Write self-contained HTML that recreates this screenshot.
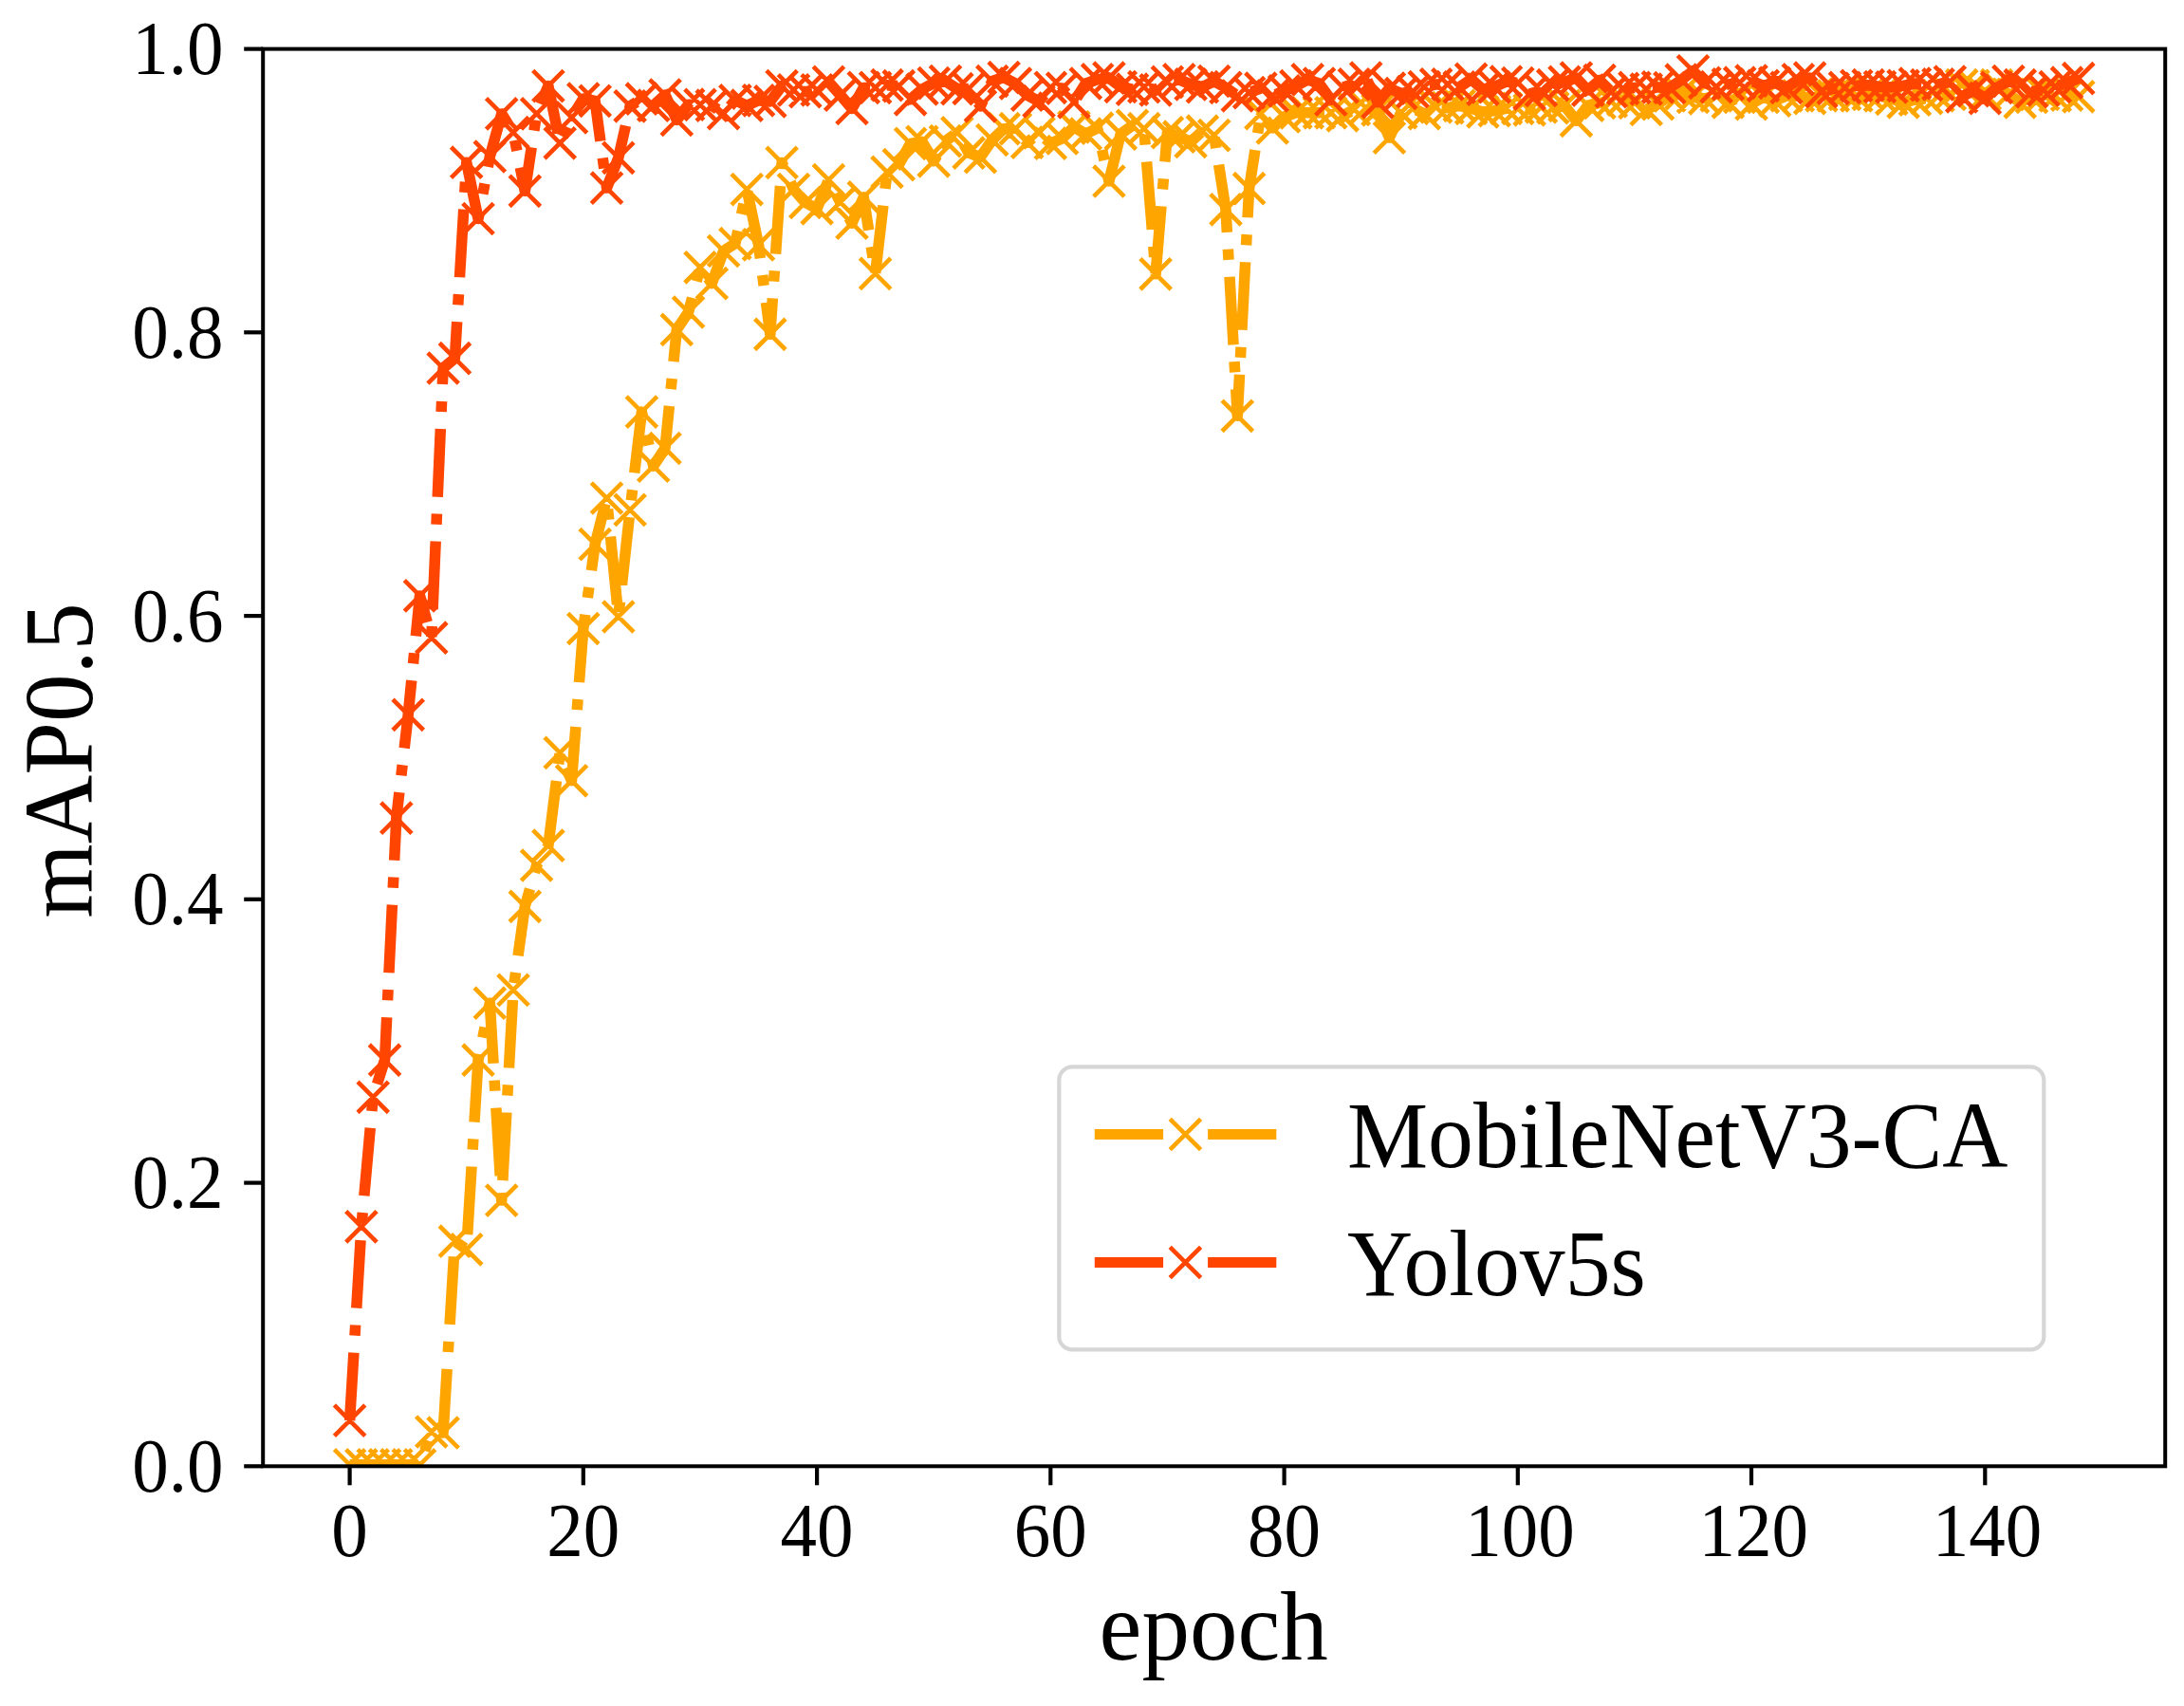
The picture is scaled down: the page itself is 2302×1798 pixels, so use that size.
<!DOCTYPE html>
<html lang="en"><head><meta charset="utf-8"><title>mAP0.5 vs epoch</title>
<style>html,body{margin:0;padding:0;background:#fff}body{width:2302px;height:1798px;overflow:hidden}</style>
</head><body>
<svg width="2302" height="1798" viewBox="0 0 2302 1798" style="display:block">
<rect width="2302" height="1798" fill="#fff"/>
<defs><clipPath id="ax"><rect x="277.2" y="51.6" width="2005.0" height="1493.7"/></clipPath></defs>
<g clip-path="url(#ax)">
<path d="M368.6,1543.8 L380.9,1543.8 L393.2,1543.8 L405.5,1543.8 L417.8,1543.8 L430.2,1543.8 L442.5,1543.8 L454.8,1509.0 L467.1,1510.0 L479.4,1308.2 L491.7,1316.8 L504.0,1117.2 L516.3,1057.2 L528.7,1265.1 L541.0,1043.4 L553.3,955.3 L565.6,912.0 L577.9,891.1 L590.2,793.4 L602.5,822.8 L614.8,662.5 L627.2,573.6 L639.5,525.0 L651.8,650.0 L664.1,537.4 L676.4,434.1 L688.7,491.2 L701.0,472.5 L713.3,347.4 L725.6,329.0 L738.0,281.8 L750.3,298.7 L762.6,264.5 L774.9,256.7 L787.2,199.6 L799.5,257.9 L811.8,352.3 L824.1,171.4 L836.5,199.5 L848.8,213.5 L861.1,219.8 L873.4,189.6 L885.7,213.2 L898.0,235.2 L910.3,207.8 L922.6,288.4 L935.0,181.4 L947.3,173.6 L959.6,151.4 L971.9,149.3 L984.2,169.8 L996.5,148.7 L1008.8,139.9 L1021.1,161.2 L1033.4,165.6 L1045.8,147.5 L1058.1,135.7 L1070.4,135.7 L1082.7,150.2 L1095.0,140.0 L1107.3,151.1 L1119.6,146.0 L1131.9,133.8 L1144.3,141.2 L1156.6,135.2 L1168.9,191.0 L1181.2,141.2 L1193.5,132.3 L1205.8,135.7 L1218.1,288.8 L1230.4,139.7 L1242.8,144.2 L1255.1,149.4 L1267.4,138.2 L1279.7,142.6 L1292.0,220.8 L1304.3,438.3 L1316.6,198.7 L1328.9,119.7 L1341.2,134.9 L1353.6,123.0 L1365.9,118.8 L1378.2,118.8 L1390.5,118.8 L1402.8,118.8 L1415.1,121.8 L1427.4,115.4 L1439.7,113.7 L1452.1,115.8 L1464.4,145.1 L1476.7,118.8 L1489.0,114.3 L1501.3,119.7 L1513.6,112.8 L1525.9,113.7 L1538.2,111.3 L1550.6,114.3 L1562.9,117.9 L1575.2,116.7 L1587.5,114.3 L1599.8,114.3 L1612.1,115.8 L1624.4,112.8 L1636.7,113.7 L1649.0,111.3 L1661.4,127.3 L1673.7,111.2 L1686.0,108.4 L1698.3,106.9 L1710.6,105.2 L1722.9,108.4 L1735.2,115.4 L1747.5,109.6 L1759.9,101.0 L1772.2,98.5 L1784.5,102.4 L1796.8,103.9 L1809.1,101.0 L1821.4,107.8 L1833.7,102.4 L1846.0,109.6 L1858.4,102.4 L1870.7,106.1 L1883.0,100.9 L1895.3,100.9 L1907.6,103.6 L1919.9,100.9 L1932.2,101.0 L1944.5,99.4 L1956.8,100.9 L1969.2,99.4 L1981.5,100.9 L1993.8,104.3 L2006.1,107.8 L2018.4,105.2 L2030.7,103.6 L2043.0,100.9 L2055.3,99.4 L2067.7,89.7 L2080.0,90.4 L2092.3,99.4 L2104.6,89.7 L2116.9,99.4 L2129.2,107.8 L2141.5,102.4 L2153.8,99.4 L2166.2,100.9 L2178.5,100.1 L2190.8,101.8" fill="none" stroke="#FFA500" stroke-width="11.5" stroke-linejoin="round" stroke-dasharray="71.7 17.9 11.2 17.9"/>
<path d="M352.4,1527.6l32.4,32.4M352.4,1560.0l32.4,-32.4M364.7,1527.6l32.4,32.4M364.7,1560.0l32.4,-32.4M377.0,1527.6l32.4,32.4M377.0,1560.0l32.4,-32.4M389.3,1527.6l32.4,32.4M389.3,1560.0l32.4,-32.4M401.6,1527.6l32.4,32.4M401.6,1560.0l32.4,-32.4M414.0,1527.6l32.4,32.4M414.0,1560.0l32.4,-32.4M426.3,1527.6l32.4,32.4M426.3,1560.0l32.4,-32.4M438.6,1492.8l32.4,32.4M438.6,1525.2l32.4,-32.4M450.9,1493.8l32.4,32.4M450.9,1526.2l32.4,-32.4M463.2,1292.0l32.4,32.4M463.2,1324.4l32.4,-32.4M475.5,1300.6l32.4,32.4M475.5,1333.0l32.4,-32.4M487.8,1101.0l32.4,32.4M487.8,1133.4l32.4,-32.4M500.1,1041.0l32.4,32.4M500.1,1073.4l32.4,-32.4M512.5,1248.9l32.4,32.4M512.5,1281.3l32.4,-32.4M524.8,1027.2l32.4,32.4M524.8,1059.6l32.4,-32.4M537.1,939.1l32.4,32.4M537.1,971.5l32.4,-32.4M549.4,895.8l32.4,32.4M549.4,928.2l32.4,-32.4M561.7,874.9l32.4,32.4M561.7,907.3l32.4,-32.4M574.0,777.2l32.4,32.4M574.0,809.6l32.4,-32.4M586.3,806.6l32.4,32.4M586.3,839.0l32.4,-32.4M598.6,646.3l32.4,32.4M598.6,678.7l32.4,-32.4M611.0,557.4l32.4,32.4M611.0,589.8l32.4,-32.4M623.3,508.8l32.4,32.4M623.3,541.2l32.4,-32.4M635.6,633.8l32.4,32.4M635.6,666.2l32.4,-32.4M647.9,521.2l32.4,32.4M647.9,553.6l32.4,-32.4M660.2,417.9l32.4,32.4M660.2,450.3l32.4,-32.4M672.5,475.0l32.4,32.4M672.5,507.4l32.4,-32.4M684.8,456.3l32.4,32.4M684.8,488.7l32.4,-32.4M697.1,331.2l32.4,32.4M697.1,363.6l32.4,-32.4M709.4,312.8l32.4,32.4M709.4,345.2l32.4,-32.4M721.8,265.6l32.4,32.4M721.8,298.0l32.4,-32.4M734.1,282.5l32.4,32.4M734.1,314.9l32.4,-32.4M746.4,248.3l32.4,32.4M746.4,280.7l32.4,-32.4M758.7,240.5l32.4,32.4M758.7,272.9l32.4,-32.4M771.0,183.4l32.4,32.4M771.0,215.8l32.4,-32.4M783.3,241.7l32.4,32.4M783.3,274.1l32.4,-32.4M795.6,336.1l32.4,32.4M795.6,368.5l32.4,-32.4M807.9,155.2l32.4,32.4M807.9,187.6l32.4,-32.4M820.3,183.3l32.4,32.4M820.3,215.7l32.4,-32.4M832.6,197.3l32.4,32.4M832.6,229.7l32.4,-32.4M844.9,203.6l32.4,32.4M844.9,236.0l32.4,-32.4M857.2,173.4l32.4,32.4M857.2,205.8l32.4,-32.4M869.5,197.0l32.4,32.4M869.5,229.4l32.4,-32.4M881.8,219.0l32.4,32.4M881.8,251.4l32.4,-32.4M894.1,191.6l32.4,32.4M894.1,224.0l32.4,-32.4M906.4,272.2l32.4,32.4M906.4,304.6l32.4,-32.4M918.8,165.2l32.4,32.4M918.8,197.6l32.4,-32.4M931.1,157.4l32.4,32.4M931.1,189.8l32.4,-32.4M943.4,135.2l32.4,32.4M943.4,167.6l32.4,-32.4M955.7,133.1l32.4,32.4M955.7,165.5l32.4,-32.4M968.0,153.6l32.4,32.4M968.0,186.0l32.4,-32.4M980.3,132.5l32.4,32.4M980.3,164.9l32.4,-32.4M992.6,123.7l32.4,32.4M992.6,156.1l32.4,-32.4M1004.9,145.0l32.4,32.4M1004.9,177.4l32.4,-32.4M1017.2,149.4l32.4,32.4M1017.2,181.8l32.4,-32.4M1029.6,131.3l32.4,32.4M1029.6,163.7l32.4,-32.4M1041.9,119.5l32.4,32.4M1041.9,151.9l32.4,-32.4M1054.2,119.5l32.4,32.4M1054.2,151.9l32.4,-32.4M1066.5,134.0l32.4,32.4M1066.5,166.4l32.4,-32.4M1078.8,123.8l32.4,32.4M1078.8,156.2l32.4,-32.4M1091.1,134.9l32.4,32.4M1091.1,167.3l32.4,-32.4M1103.4,129.8l32.4,32.4M1103.4,162.2l32.4,-32.4M1115.7,117.6l32.4,32.4M1115.7,150.0l32.4,-32.4M1128.1,125.0l32.4,32.4M1128.1,157.4l32.4,-32.4M1140.4,119.0l32.4,32.4M1140.4,151.4l32.4,-32.4M1152.7,174.8l32.4,32.4M1152.7,207.2l32.4,-32.4M1165.0,125.0l32.4,32.4M1165.0,157.4l32.4,-32.4M1177.3,116.1l32.4,32.4M1177.3,148.5l32.4,-32.4M1189.6,119.5l32.4,32.4M1189.6,151.9l32.4,-32.4M1201.9,272.6l32.4,32.4M1201.9,305.0l32.4,-32.4M1214.2,123.5l32.4,32.4M1214.2,155.9l32.4,-32.4M1226.6,128.0l32.4,32.4M1226.6,160.4l32.4,-32.4M1238.9,133.2l32.4,32.4M1238.9,165.6l32.4,-32.4M1251.2,122.0l32.4,32.4M1251.2,154.4l32.4,-32.4M1263.5,126.4l32.4,32.4M1263.5,158.8l32.4,-32.4M1275.8,204.6l32.4,32.4M1275.8,237.0l32.4,-32.4M1288.1,422.1l32.4,32.4M1288.1,454.5l32.4,-32.4M1300.4,182.5l32.4,32.4M1300.4,214.9l32.4,-32.4M1312.7,103.5l32.4,32.4M1312.7,135.9l32.4,-32.4M1325.0,118.7l32.4,32.4M1325.0,151.1l32.4,-32.4M1337.4,106.8l32.4,32.4M1337.4,139.2l32.4,-32.4M1349.7,102.6l32.4,32.4M1349.7,135.0l32.4,-32.4M1362.0,102.6l32.4,32.4M1362.0,135.0l32.4,-32.4M1374.3,102.6l32.4,32.4M1374.3,135.0l32.4,-32.4M1386.6,102.6l32.4,32.4M1386.6,135.0l32.4,-32.4M1398.9,105.6l32.4,32.4M1398.9,138.0l32.4,-32.4M1411.2,99.2l32.4,32.4M1411.2,131.6l32.4,-32.4M1423.5,97.5l32.4,32.4M1423.5,129.9l32.4,-32.4M1435.9,99.6l32.4,32.4M1435.9,132.0l32.4,-32.4M1448.2,128.9l32.4,32.4M1448.2,161.3l32.4,-32.4M1460.5,102.6l32.4,32.4M1460.5,135.0l32.4,-32.4M1472.8,98.1l32.4,32.4M1472.8,130.5l32.4,-32.4M1485.1,103.5l32.4,32.4M1485.1,135.9l32.4,-32.4M1497.4,96.6l32.4,32.4M1497.4,129.0l32.4,-32.4M1509.7,97.5l32.4,32.4M1509.7,129.9l32.4,-32.4M1522.0,95.1l32.4,32.4M1522.0,127.5l32.4,-32.4M1534.4,98.1l32.4,32.4M1534.4,130.5l32.4,-32.4M1546.7,101.7l32.4,32.4M1546.7,134.1l32.4,-32.4M1559.0,100.5l32.4,32.4M1559.0,132.9l32.4,-32.4M1571.3,98.1l32.4,32.4M1571.3,130.5l32.4,-32.4M1583.6,98.1l32.4,32.4M1583.6,130.5l32.4,-32.4M1595.9,99.6l32.4,32.4M1595.9,132.0l32.4,-32.4M1608.2,96.6l32.4,32.4M1608.2,129.0l32.4,-32.4M1620.5,97.5l32.4,32.4M1620.5,129.9l32.4,-32.4M1632.8,95.1l32.4,32.4M1632.8,127.5l32.4,-32.4M1645.2,111.1l32.4,32.4M1645.2,143.5l32.4,-32.4M1657.5,95.0l32.4,32.4M1657.5,127.4l32.4,-32.4M1669.8,92.2l32.4,32.4M1669.8,124.6l32.4,-32.4M1682.1,90.7l32.4,32.4M1682.1,123.1l32.4,-32.4M1694.4,89.0l32.4,32.4M1694.4,121.4l32.4,-32.4M1706.7,92.2l32.4,32.4M1706.7,124.6l32.4,-32.4M1719.0,99.2l32.4,32.4M1719.0,131.6l32.4,-32.4M1731.3,93.4l32.4,32.4M1731.3,125.8l32.4,-32.4M1743.7,84.8l32.4,32.4M1743.7,117.2l32.4,-32.4M1756.0,82.3l32.4,32.4M1756.0,114.7l32.4,-32.4M1768.3,86.2l32.4,32.4M1768.3,118.6l32.4,-32.4M1780.6,87.7l32.4,32.4M1780.6,120.1l32.4,-32.4M1792.9,84.8l32.4,32.4M1792.9,117.2l32.4,-32.4M1805.2,91.6l32.4,32.4M1805.2,124.0l32.4,-32.4M1817.5,86.2l32.4,32.4M1817.5,118.6l32.4,-32.4M1829.8,93.4l32.4,32.4M1829.8,125.8l32.4,-32.4M1842.2,86.2l32.4,32.4M1842.2,118.6l32.4,-32.4M1854.5,89.9l32.4,32.4M1854.5,122.3l32.4,-32.4M1866.8,84.7l32.4,32.4M1866.8,117.1l32.4,-32.4M1879.1,84.7l32.4,32.4M1879.1,117.1l32.4,-32.4M1891.4,87.4l32.4,32.4M1891.4,119.8l32.4,-32.4M1903.7,84.7l32.4,32.4M1903.7,117.1l32.4,-32.4M1916.0,84.8l32.4,32.4M1916.0,117.2l32.4,-32.4M1928.3,83.2l32.4,32.4M1928.3,115.6l32.4,-32.4M1940.6,84.7l32.4,32.4M1940.6,117.1l32.4,-32.4M1953.0,83.2l32.4,32.4M1953.0,115.6l32.4,-32.4M1965.3,84.7l32.4,32.4M1965.3,117.1l32.4,-32.4M1977.6,88.1l32.4,32.4M1977.6,120.5l32.4,-32.4M1989.9,91.6l32.4,32.4M1989.9,124.0l32.4,-32.4M2002.2,89.0l32.4,32.4M2002.2,121.4l32.4,-32.4M2014.5,87.4l32.4,32.4M2014.5,119.8l32.4,-32.4M2026.8,84.7l32.4,32.4M2026.8,117.1l32.4,-32.4M2039.1,83.2l32.4,32.4M2039.1,115.6l32.4,-32.4M2051.5,73.5l32.4,32.4M2051.5,105.9l32.4,-32.4M2063.8,74.2l32.4,32.4M2063.8,106.6l32.4,-32.4M2076.1,83.2l32.4,32.4M2076.1,115.6l32.4,-32.4M2088.4,73.5l32.4,32.4M2088.4,105.9l32.4,-32.4M2100.7,83.2l32.4,32.4M2100.7,115.6l32.4,-32.4M2113.0,91.6l32.4,32.4M2113.0,124.0l32.4,-32.4M2125.3,86.2l32.4,32.4M2125.3,118.6l32.4,-32.4M2137.6,83.2l32.4,32.4M2137.6,115.6l32.4,-32.4M2150.0,84.7l32.4,32.4M2150.0,117.1l32.4,-32.4M2162.3,83.9l32.4,32.4M2162.3,116.3l32.4,-32.4M2174.6,85.6l32.4,32.4M2174.6,118.0l32.4,-32.4" fill="none" stroke="#FFA500" stroke-width="4.6"/>
<path d="M368.6,1497.1 L380.9,1292.9 L393.2,1156.3 L405.5,1117.2 L417.8,862.1 L430.2,753.3 L442.5,627.9 L454.8,672.2 L467.1,388.0 L479.4,377.7 L491.7,171.2 L504.0,230.5 L516.3,165.0 L528.7,119.9 L541.0,139.6 L553.3,201.3 L565.6,119.9 L577.9,90.6 L590.2,150.8 L602.5,123.9 L614.8,104.0 L627.2,106.4 L639.5,198.1 L651.8,166.3 L664.1,111.8 L676.4,104.2 L688.7,111.2 L701.0,100.0 L713.3,126.4 L725.6,110.2 L738.0,110.3 L750.3,111.2 L762.6,119.7 L774.9,105.8 L787.2,111.2 L799.5,105.8 L811.8,106.9 L824.1,90.6 L836.5,94.9 L848.8,96.7 L861.1,94.9 L873.4,86.4 L885.7,100.1 L898.0,114.5 L910.3,92.4 L922.6,92.4 L935.0,89.7 L947.3,90.7 L959.6,104.8 L971.9,94.0 L984.2,87.6 L996.5,85.5 L1008.8,93.6 L1021.1,93.4 L1033.4,111.9 L1045.8,85.5 L1058.1,81.6 L1070.4,88.0 L1082.7,100.1 L1095.0,106.9 L1107.3,92.4 L1119.6,93.1 L1131.9,107.8 L1144.3,88.0 L1156.6,83.9 L1168.9,82.1 L1181.2,91.5 L1193.5,94.2 L1205.8,91.6 L1218.1,94.9 L1230.4,86.4 L1242.8,83.9 L1255.1,88.9 L1267.4,91.6 L1279.7,85.5 L1292.0,92.4 L1304.3,101.0 L1316.6,97.6 L1328.9,93.1 L1341.2,101.0 L1353.6,95.8 L1365.9,90.6 L1378.2,83.9 L1390.5,88.0 L1402.8,105.2 L1415.1,91.9 L1427.4,88.9 L1439.7,82.1 L1452.1,107.8 L1464.4,93.1 L1476.7,98.5 L1489.0,96.7 L1501.3,91.5 L1513.6,88.9 L1525.9,88.9 L1538.2,91.9 L1550.6,83.4 L1562.9,94.2 L1575.2,91.6 L1587.5,86.0 L1599.8,87.6 L1612.1,99.1 L1624.4,95.5 L1636.7,89.7 L1649.0,86.4 L1661.4,82.1 L1673.7,95.1 L1686.0,84.6 L1698.3,96.7 L1710.6,93.4 L1722.9,92.4 L1735.2,94.0 L1747.5,91.9 L1759.9,92.5 L1772.2,84.2 L1784.5,74.8 L1796.8,87.4 L1809.1,91.6 L1821.4,88.9 L1833.7,87.2 L1846.0,85.1 L1858.4,90.4 L1870.7,87.4 L1883.0,92.4 L1895.3,83.9 L1907.6,82.1 L1919.9,96.7 L1932.2,93.4 L1944.5,92.4 L1956.8,90.4 L1969.2,89.7 L1981.5,91.5 L1993.8,91.9 L2006.1,90.4 L2018.4,88.0 L2030.7,89.7 L2043.0,88.9 L2055.3,86.0 L2067.7,101.9 L2080.0,95.7 L2092.3,103.6 L2104.6,92.4 L2116.9,85.5 L2129.2,89.7 L2141.5,96.7 L2153.8,94.9 L2166.2,91.5 L2178.5,87.2 L2190.8,82.7" fill="none" stroke="#FF4500" stroke-width="11.5" stroke-linejoin="round" stroke-dasharray="71.7 17.9 11.2 17.9"/>
<path d="M352.4,1480.9l32.4,32.4M352.4,1513.3l32.4,-32.4M364.7,1276.7l32.4,32.4M364.7,1309.1l32.4,-32.4M377.0,1140.1l32.4,32.4M377.0,1172.5l32.4,-32.4M389.3,1101.0l32.4,32.4M389.3,1133.4l32.4,-32.4M401.6,845.9l32.4,32.4M401.6,878.3l32.4,-32.4M414.0,737.1l32.4,32.4M414.0,769.5l32.4,-32.4M426.3,611.7l32.4,32.4M426.3,644.1l32.4,-32.4M438.6,656.0l32.4,32.4M438.6,688.4l32.4,-32.4M450.9,371.8l32.4,32.4M450.9,404.2l32.4,-32.4M463.2,361.5l32.4,32.4M463.2,393.9l32.4,-32.4M475.5,155.0l32.4,32.4M475.5,187.4l32.4,-32.4M487.8,214.3l32.4,32.4M487.8,246.7l32.4,-32.4M500.1,148.8l32.4,32.4M500.1,181.2l32.4,-32.4M512.5,103.7l32.4,32.4M512.5,136.1l32.4,-32.4M524.8,123.4l32.4,32.4M524.8,155.8l32.4,-32.4M537.1,185.1l32.4,32.4M537.1,217.5l32.4,-32.4M549.4,103.7l32.4,32.4M549.4,136.1l32.4,-32.4M561.7,74.4l32.4,32.4M561.7,106.8l32.4,-32.4M574.0,134.6l32.4,32.4M574.0,167.0l32.4,-32.4M586.3,107.7l32.4,32.4M586.3,140.1l32.4,-32.4M598.6,87.8l32.4,32.4M598.6,120.2l32.4,-32.4M611.0,90.2l32.4,32.4M611.0,122.6l32.4,-32.4M623.3,181.9l32.4,32.4M623.3,214.3l32.4,-32.4M635.6,150.1l32.4,32.4M635.6,182.5l32.4,-32.4M647.9,95.6l32.4,32.4M647.9,128.0l32.4,-32.4M660.2,88.0l32.4,32.4M660.2,120.4l32.4,-32.4M672.5,95.0l32.4,32.4M672.5,127.4l32.4,-32.4M684.8,83.8l32.4,32.4M684.8,116.2l32.4,-32.4M697.1,110.2l32.4,32.4M697.1,142.6l32.4,-32.4M709.4,94.0l32.4,32.4M709.4,126.4l32.4,-32.4M721.8,94.1l32.4,32.4M721.8,126.5l32.4,-32.4M734.1,95.0l32.4,32.4M734.1,127.4l32.4,-32.4M746.4,103.5l32.4,32.4M746.4,135.9l32.4,-32.4M758.7,89.6l32.4,32.4M758.7,122.0l32.4,-32.4M771.0,95.0l32.4,32.4M771.0,127.4l32.4,-32.4M783.3,89.6l32.4,32.4M783.3,122.0l32.4,-32.4M795.6,90.7l32.4,32.4M795.6,123.1l32.4,-32.4M807.9,74.4l32.4,32.4M807.9,106.8l32.4,-32.4M820.3,78.7l32.4,32.4M820.3,111.1l32.4,-32.4M832.6,80.5l32.4,32.4M832.6,112.9l32.4,-32.4M844.9,78.7l32.4,32.4M844.9,111.1l32.4,-32.4M857.2,70.2l32.4,32.4M857.2,102.6l32.4,-32.4M869.5,83.9l32.4,32.4M869.5,116.3l32.4,-32.4M881.8,98.3l32.4,32.4M881.8,130.7l32.4,-32.4M894.1,76.2l32.4,32.4M894.1,108.6l32.4,-32.4M906.4,76.2l32.4,32.4M906.4,108.6l32.4,-32.4M918.8,73.5l32.4,32.4M918.8,105.9l32.4,-32.4M931.1,74.5l32.4,32.4M931.1,106.9l32.4,-32.4M943.4,88.6l32.4,32.4M943.4,121.0l32.4,-32.4M955.7,77.8l32.4,32.4M955.7,110.2l32.4,-32.4M968.0,71.4l32.4,32.4M968.0,103.8l32.4,-32.4M980.3,69.3l32.4,32.4M980.3,101.7l32.4,-32.4M992.6,77.4l32.4,32.4M992.6,109.8l32.4,-32.4M1004.9,77.2l32.4,32.4M1004.9,109.6l32.4,-32.4M1017.2,95.7l32.4,32.4M1017.2,128.1l32.4,-32.4M1029.6,69.3l32.4,32.4M1029.6,101.7l32.4,-32.4M1041.9,65.4l32.4,32.4M1041.9,97.8l32.4,-32.4M1054.2,71.8l32.4,32.4M1054.2,104.2l32.4,-32.4M1066.5,83.9l32.4,32.4M1066.5,116.3l32.4,-32.4M1078.8,90.7l32.4,32.4M1078.8,123.1l32.4,-32.4M1091.1,76.2l32.4,32.4M1091.1,108.6l32.4,-32.4M1103.4,76.9l32.4,32.4M1103.4,109.3l32.4,-32.4M1115.7,91.6l32.4,32.4M1115.7,124.0l32.4,-32.4M1128.1,71.8l32.4,32.4M1128.1,104.2l32.4,-32.4M1140.4,67.7l32.4,32.4M1140.4,100.1l32.4,-32.4M1152.7,65.9l32.4,32.4M1152.7,98.3l32.4,-32.4M1165.0,75.3l32.4,32.4M1165.0,107.7l32.4,-32.4M1177.3,78.0l32.4,32.4M1177.3,110.4l32.4,-32.4M1189.6,75.4l32.4,32.4M1189.6,107.8l32.4,-32.4M1201.9,78.7l32.4,32.4M1201.9,111.1l32.4,-32.4M1214.2,70.2l32.4,32.4M1214.2,102.6l32.4,-32.4M1226.6,67.7l32.4,32.4M1226.6,100.1l32.4,-32.4M1238.9,72.7l32.4,32.4M1238.9,105.1l32.4,-32.4M1251.2,75.4l32.4,32.4M1251.2,107.8l32.4,-32.4M1263.5,69.3l32.4,32.4M1263.5,101.7l32.4,-32.4M1275.8,76.2l32.4,32.4M1275.8,108.6l32.4,-32.4M1288.1,84.8l32.4,32.4M1288.1,117.2l32.4,-32.4M1300.4,81.4l32.4,32.4M1300.4,113.8l32.4,-32.4M1312.7,76.9l32.4,32.4M1312.7,109.3l32.4,-32.4M1325.0,84.8l32.4,32.4M1325.0,117.2l32.4,-32.4M1337.4,79.6l32.4,32.4M1337.4,112.0l32.4,-32.4M1349.7,74.4l32.4,32.4M1349.7,106.8l32.4,-32.4M1362.0,67.7l32.4,32.4M1362.0,100.1l32.4,-32.4M1374.3,71.8l32.4,32.4M1374.3,104.2l32.4,-32.4M1386.6,89.0l32.4,32.4M1386.6,121.4l32.4,-32.4M1398.9,75.7l32.4,32.4M1398.9,108.1l32.4,-32.4M1411.2,72.7l32.4,32.4M1411.2,105.1l32.4,-32.4M1423.5,65.9l32.4,32.4M1423.5,98.3l32.4,-32.4M1435.9,91.6l32.4,32.4M1435.9,124.0l32.4,-32.4M1448.2,76.9l32.4,32.4M1448.2,109.3l32.4,-32.4M1460.5,82.3l32.4,32.4M1460.5,114.7l32.4,-32.4M1472.8,80.5l32.4,32.4M1472.8,112.9l32.4,-32.4M1485.1,75.3l32.4,32.4M1485.1,107.7l32.4,-32.4M1497.4,72.7l32.4,32.4M1497.4,105.1l32.4,-32.4M1509.7,72.7l32.4,32.4M1509.7,105.1l32.4,-32.4M1522.0,75.7l32.4,32.4M1522.0,108.1l32.4,-32.4M1534.4,67.2l32.4,32.4M1534.4,99.6l32.4,-32.4M1546.7,78.0l32.4,32.4M1546.7,110.4l32.4,-32.4M1559.0,75.4l32.4,32.4M1559.0,107.8l32.4,-32.4M1571.3,69.8l32.4,32.4M1571.3,102.2l32.4,-32.4M1583.6,71.4l32.4,32.4M1583.6,103.8l32.4,-32.4M1595.9,82.9l32.4,32.4M1595.9,115.3l32.4,-32.4M1608.2,79.3l32.4,32.4M1608.2,111.7l32.4,-32.4M1620.5,73.5l32.4,32.4M1620.5,105.9l32.4,-32.4M1632.8,70.2l32.4,32.4M1632.8,102.6l32.4,-32.4M1645.2,65.9l32.4,32.4M1645.2,98.3l32.4,-32.4M1657.5,78.9l32.4,32.4M1657.5,111.3l32.4,-32.4M1669.8,68.4l32.4,32.4M1669.8,100.8l32.4,-32.4M1682.1,80.5l32.4,32.4M1682.1,112.9l32.4,-32.4M1694.4,77.2l32.4,32.4M1694.4,109.6l32.4,-32.4M1706.7,76.2l32.4,32.4M1706.7,108.6l32.4,-32.4M1719.0,77.8l32.4,32.4M1719.0,110.2l32.4,-32.4M1731.3,75.7l32.4,32.4M1731.3,108.1l32.4,-32.4M1743.7,76.3l32.4,32.4M1743.7,108.7l32.4,-32.4M1756.0,68.0l32.4,32.4M1756.0,100.4l32.4,-32.4M1768.3,58.6l32.4,32.4M1768.3,91.0l32.4,-32.4M1780.6,71.2l32.4,32.4M1780.6,103.6l32.4,-32.4M1792.9,75.4l32.4,32.4M1792.9,107.8l32.4,-32.4M1805.2,72.7l32.4,32.4M1805.2,105.1l32.4,-32.4M1817.5,71.0l32.4,32.4M1817.5,103.4l32.4,-32.4M1829.8,68.9l32.4,32.4M1829.8,101.3l32.4,-32.4M1842.2,74.2l32.4,32.4M1842.2,106.6l32.4,-32.4M1854.5,71.2l32.4,32.4M1854.5,103.6l32.4,-32.4M1866.8,76.2l32.4,32.4M1866.8,108.6l32.4,-32.4M1879.1,67.7l32.4,32.4M1879.1,100.1l32.4,-32.4M1891.4,65.9l32.4,32.4M1891.4,98.3l32.4,-32.4M1903.7,80.5l32.4,32.4M1903.7,112.9l32.4,-32.4M1916.0,77.2l32.4,32.4M1916.0,109.6l32.4,-32.4M1928.3,76.2l32.4,32.4M1928.3,108.6l32.4,-32.4M1940.6,74.2l32.4,32.4M1940.6,106.6l32.4,-32.4M1953.0,73.5l32.4,32.4M1953.0,105.9l32.4,-32.4M1965.3,75.3l32.4,32.4M1965.3,107.7l32.4,-32.4M1977.6,75.7l32.4,32.4M1977.6,108.1l32.4,-32.4M1989.9,74.2l32.4,32.4M1989.9,106.6l32.4,-32.4M2002.2,71.8l32.4,32.4M2002.2,104.2l32.4,-32.4M2014.5,73.5l32.4,32.4M2014.5,105.9l32.4,-32.4M2026.8,72.7l32.4,32.4M2026.8,105.1l32.4,-32.4M2039.1,69.8l32.4,32.4M2039.1,102.2l32.4,-32.4M2051.5,85.7l32.4,32.4M2051.5,118.1l32.4,-32.4M2063.8,79.5l32.4,32.4M2063.8,111.9l32.4,-32.4M2076.1,87.4l32.4,32.4M2076.1,119.8l32.4,-32.4M2088.4,76.2l32.4,32.4M2088.4,108.6l32.4,-32.4M2100.7,69.3l32.4,32.4M2100.7,101.7l32.4,-32.4M2113.0,73.5l32.4,32.4M2113.0,105.9l32.4,-32.4M2125.3,80.5l32.4,32.4M2125.3,112.9l32.4,-32.4M2137.6,78.7l32.4,32.4M2137.6,111.1l32.4,-32.4M2150.0,75.3l32.4,32.4M2150.0,107.7l32.4,-32.4M2162.3,71.0l32.4,32.4M2162.3,103.4l32.4,-32.4M2174.6,66.5l32.4,32.4M2174.6,98.9l32.4,-32.4" fill="none" stroke="#FF4500" stroke-width="4.6"/>
</g>
<g stroke="#000" stroke-width="4.2">
<line x1="368.6" y1="1545.3" x2="368.6" y2="1565.3"/>
<line x1="614.8" y1="1545.3" x2="614.8" y2="1565.3"/>
<line x1="861.1" y1="1545.3" x2="861.1" y2="1565.3"/>
<line x1="1107.3" y1="1545.3" x2="1107.3" y2="1565.3"/>
<line x1="1353.6" y1="1545.3" x2="1353.6" y2="1565.3"/>
<line x1="1599.8" y1="1545.3" x2="1599.8" y2="1565.3"/>
<line x1="1846.0" y1="1545.3" x2="1846.0" y2="1565.3"/>
<line x1="2092.3" y1="1545.3" x2="2092.3" y2="1565.3"/>
<line x1="277.2" y1="1545.3" x2="257.2" y2="1545.3"/>
<line x1="277.2" y1="1246.6" x2="257.2" y2="1246.6"/>
<line x1="277.2" y1="947.8" x2="257.2" y2="947.8"/>
<line x1="277.2" y1="649.1" x2="257.2" y2="649.1"/>
<line x1="277.2" y1="350.3" x2="257.2" y2="350.3"/>
<line x1="277.2" y1="51.6" x2="257.2" y2="51.6"/>
</g>
<rect x="277.2" y="51.6" width="2005.0" height="1493.7" fill="none" stroke="#000" stroke-width="4.0" stroke-linejoin="miter"/>
<text transform="translate(368.6,1639.8) scale(1,1.04)" text-anchor="middle" font-family="'Liberation Serif',serif" font-size="77" fill="#000">0</text>
<text transform="translate(614.8,1639.8) scale(1,1.04)" text-anchor="middle" font-family="'Liberation Serif',serif" font-size="77" fill="#000">20</text>
<text transform="translate(861.1,1639.8) scale(1,1.04)" text-anchor="middle" font-family="'Liberation Serif',serif" font-size="77" fill="#000">40</text>
<text transform="translate(1107.3,1639.8) scale(1,1.04)" text-anchor="middle" font-family="'Liberation Serif',serif" font-size="77" fill="#000">60</text>
<text transform="translate(1353.6,1639.8) scale(1,1.04)" text-anchor="middle" font-family="'Liberation Serif',serif" font-size="77" fill="#000">80</text>
<text transform="translate(1602.1,1639.8) scale(1,1.04)" text-anchor="middle" font-family="'Liberation Serif',serif" font-size="77" fill="#000">100</text>
<text transform="translate(1848.3,1639.8) scale(1,1.04)" text-anchor="middle" font-family="'Liberation Serif',serif" font-size="77" fill="#000">120</text>
<text transform="translate(2094.6,1639.8) scale(1,1.04)" text-anchor="middle" font-family="'Liberation Serif',serif" font-size="77" fill="#000">140</text>
<text transform="translate(235.5,1571.9) scale(1,1.04)" text-anchor="end" font-family="'Liberation Serif',serif" font-size="77" fill="#000">0.0</text>
<text transform="translate(235.5,1273.2) scale(1,1.04)" text-anchor="end" font-family="'Liberation Serif',serif" font-size="77" fill="#000">0.2</text>
<text transform="translate(235.5,974.4) scale(1,1.04)" text-anchor="end" font-family="'Liberation Serif',serif" font-size="77" fill="#000">0.4</text>
<text transform="translate(235.5,675.7) scale(1,1.04)" text-anchor="end" font-family="'Liberation Serif',serif" font-size="77" fill="#000">0.6</text>
<text transform="translate(235.5,376.9) scale(1,1.04)" text-anchor="end" font-family="'Liberation Serif',serif" font-size="77" fill="#000">0.8</text>
<text transform="translate(235.5,78.2) scale(1,1.04)" text-anchor="end" font-family="'Liberation Serif',serif" font-size="77" fill="#000">1.0</text>
<text transform="translate(1279.2,1748.8) scale(1,1.025)" text-anchor="middle" font-family="'Liberation Serif',serif" font-size="101" fill="#000">epoch</text>
<text transform="translate(96.8,801.3) rotate(-90) scale(1,1.025)" text-anchor="middle" font-family="'Liberation Serif',serif" font-size="100.5" fill="#000">mAP0.5</text>
<rect x="1116.3" y="1124.3" width="1038.0000000000002" height="298.10000000000014" rx="14" ry="14" fill="#fff" fill-opacity="0.8" stroke="#ccc" stroke-opacity="0.8" stroke-width="4.2"/>
<path d="M1153.8,1195.5H1226.1M1273.1,1195.5H1345.3" stroke="#FFA500" stroke-width="11.0" fill="none"/><path d="M1233.2,1179.3l32.4,32.4M1233.2,1211.7l32.4,-32.4" stroke="#FFA500" stroke-width="4.6" fill="none"/>
<path d="M1153.8,1330.5H1226.1M1273.1,1330.5H1345.3" stroke="#FF4500" stroke-width="11.0" fill="none"/><path d="M1233.2,1314.3l32.4,32.4M1233.2,1346.7l32.4,-32.4" stroke="#FF4500" stroke-width="4.6" fill="none"/>
<text transform="translate(1420.0,1229.7) scale(1,1.04)" text-anchor="start" font-family="'Liberation Serif',serif" font-size="95.7" fill="#000">MobileNetV3-CA</text>
<text transform="translate(1420.0,1364.6) scale(1,1.04)" text-anchor="start" font-family="'Liberation Serif',serif" font-size="95.7" fill="#000">Yolov5s</text>
</svg>
</body></html>
